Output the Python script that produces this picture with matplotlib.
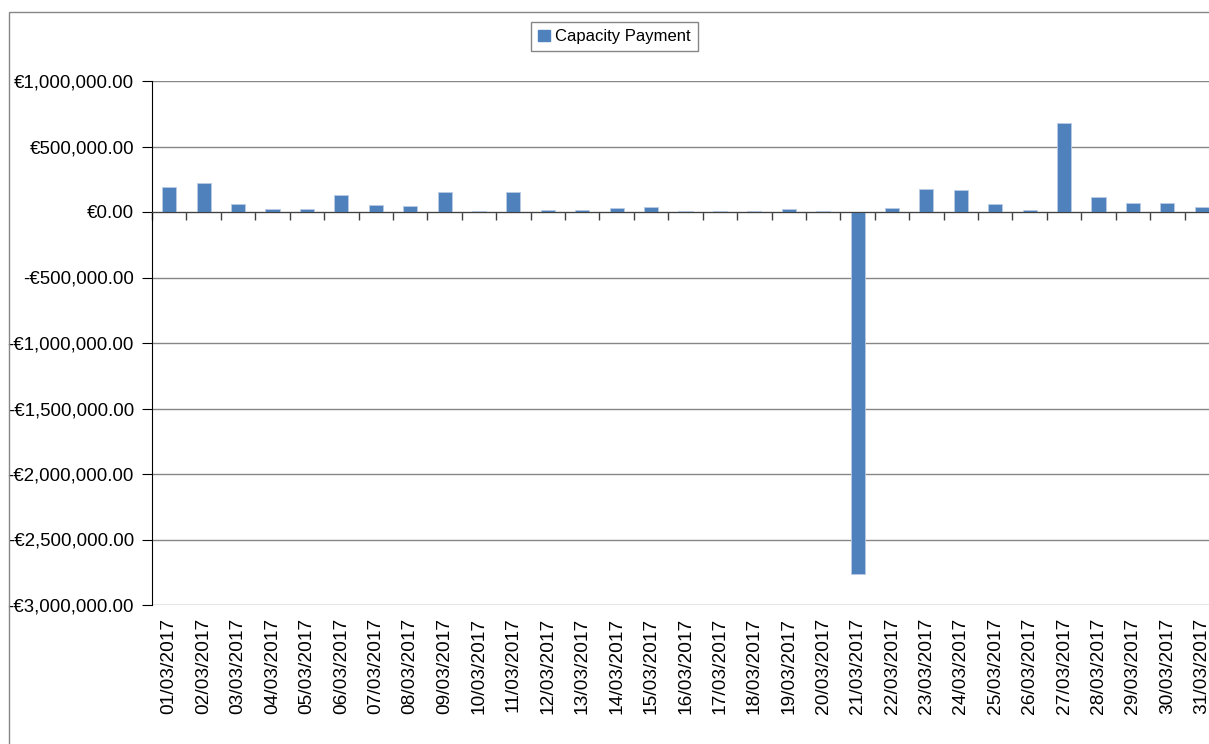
import matplotlib
matplotlib.use('Agg')
import matplotlib.pyplot as plt
from matplotlib.ticker import FuncFormatter, MultipleLocator, FixedLocator
from matplotlib.patches import Rectangle, Patch
import numpy as np

plt.rcParams['font.family'] = ['Liberation Sans', 'DejaVu Sans']

dates = ['%02d/03/2017' % d for d in range(1, 32)]
payments = [189000, 221000, 63000, 25000, 25000, 132000, 50000, 46000,
            155000, 10000, 155000, 15000, 15000, 33000, 40000, 8000,
            8000, 8000, 25000, 8000, -2763000, 33000, 178000, 170000,
            63000, 15000, 676000, 111000, 71000, 71000, 38000]

BAR = '#4F81BD'
GRID = '#868686'

W, H = 1209, 744
fig = plt.figure(figsize=(W / 100, H / 100), dpi=100)

# outer chart frame (right and bottom edges fall outside the picture)
fig.patches.append(Rectangle((9 / W, -0.1), 1.2, 1.1 - 12 / H, transform=fig.transFigure,
                             fill=False, edgecolor=GRID, lw=1.0))

left, right, top, bottom = 152, 1219, 81, 605
ax = fig.add_axes([left / W, 1 - bottom / H, (right - left) / W, (bottom - top) / H])

x = np.arange(len(dates))
ax.bar(x, payments, width=0.41, color=BAR, edgecolor='#b8cce4', linewidth=0.6, zorder=3)

ax.set_xlim(-0.5, len(dates) - 0.5)
ax.set_ylim(-3000000, 1000000)
ax.yaxis.set_major_locator(MultipleLocator(500000))


def euro(v, pos):
    s = '€{:,.2f}'.format(abs(v))
    return '-' + s if v < 0 else s


ax.yaxis.set_major_formatter(FuncFormatter(euro))
ax.grid(axis='y', color=GRID, lw=1.0, zorder=0)
ax.set_axisbelow(True)

for s in ['right', 'bottom']:
    ax.spines[s].set_visible(False)
ax.spines['left'].set_color('black')
ax.spines['top'].set_position(('data', 0))
ax.spines['top'].set_color('#404040')
ax.spines['top'].set_zorder(4)

ax.set_xticks(x)
ax.set_xticklabels(dates, rotation=90, fontsize=13.8)
ax.xaxis.set_minor_locator(FixedLocator(np.arange(len(dates) + 1) - 0.5))
ax.tick_params(axis='x', which='major', length=0, pad=9, bottom=True, top=False)
ax.tick_params(axis='x', which='minor', bottom=False, top=True, direction='in',
               length=6, color='#404040', width=1.0)
ax.tick_params(axis='y', length=7, color='black', labelsize=13.4, pad=6)

fig.legend(handles=[Patch(facecolor=BAR, edgecolor=BAR, label='Capacity Payment')],
           loc='center', bbox_to_anchor=(614.5 / W, 1 - 36.7 / H), fontsize=12,
           frameon=True, fancybox=False, edgecolor=GRID, framealpha=1,
           handlelength=0.7, handleheight=0.7, handletextpad=0.35, borderpad=0.42,
           borderaxespad=0)

fig.savefig('out.png', dpi=100)
